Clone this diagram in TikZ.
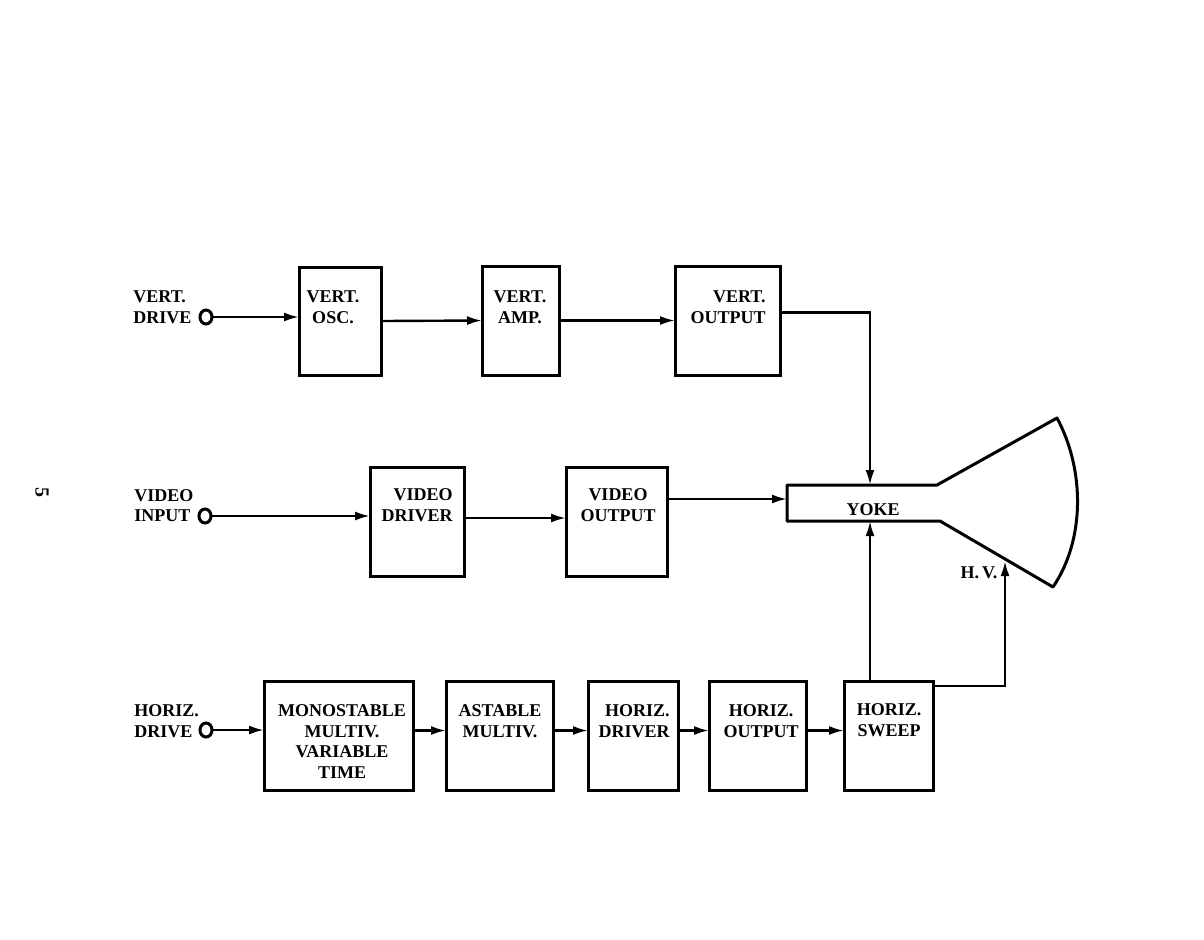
\documentclass[tikz,border=0pt]{standalone}
\usepackage{fontspec}
\setmainfont{Liberation Serif}
\usetikzlibrary{arrows.meta,shapes.geometric}
\begin{document}
\begin{tikzpicture}[x=0.5pt,y=-0.5pt,
  blk/.style={draw,line width=1.5pt,rectangle,inner sep=0pt,outer sep=0pt},
  lbl/.style={inner sep=0pt,font=\bfseries\fontsize{9}{10.3}\selectfont},
  term/.style={draw,ellipse,line width=1.5pt,minimum width=6pt,minimum height=7pt,inner sep=0pt,outer sep=0pt},
  conn/.style={line width=1.2pt},
  arr/.style={conn,-{Latex[length=7.5pt,width=4.5pt]}},
  tube/.style={line width=1.5pt,line join=round}]
\useasboundingbox[fill=white] (0,0) rectangle (1204,939);

% blocks
\node[blk,minimum width=41pt,minimum height=54pt] (vosc) at (340,321) {};
\node[blk,minimum width=38.5pt,minimum height=54.5pt] (vamp) at (520.5,320.5) {};
\node[blk,minimum width=52.5pt,minimum height=54.5pt] (vout) at (727.5,320.5) {};
\node[blk,minimum width=47pt,minimum height=54.5pt] (vdrv) at (417,521.5) {};
\node[blk,minimum width=50.5pt,minimum height=54.5pt] (vidout) at (616.5,521.5) {};
\node[blk,minimum width=74.5pt,minimum height=54.5pt] (mono) at (338.5,735.5) {};
\node[blk,minimum width=53.5pt,minimum height=54.5pt] (astab) at (499.5,735.5) {};
\node[blk,minimum width=45pt,minimum height=54.5pt] (hdrv) at (633,735.5) {};
\node[blk,minimum width=48.5pt,minimum height=54.5pt] (hout) at (757.5,735.5) {};
\node[blk,minimum width=44.5pt,minimum height=54.5pt] (hsweep) at (888.5,735.5) {};

% block texts
\node[lbl,align=center] (tvosc) at (333,307.5) {VERT.\\OSC.};
\node[lbl,align=center] (tvamp) at (520,307.5) {VERT.\\AMP.};
\node[lbl,align=right,anchor=east] (tvout) at (766,307) {VERT.\\OUTPUT};
\node[lbl,align=right,anchor=east] (tvdrv) at (453,505) {VIDEO\\DRIVER};
\node[lbl,align=center] (tvidout) at (618,505) {VIDEO\\OUTPUT};
\node[lbl,align=center] (tmono) at (342,741.5) {MONOSTABLE\\MULTIV.\\VARIABLE\\TIME};
\node[lbl,align=center] (tastab) at (500,721) {ASTABLE\\MULTIV.};
\node[lbl,align=right,anchor=east] (thdrv) at (670,721) {HORIZ.\\DRIVER};
\node[lbl,align=center] (thout) at (761,721) {HORIZ.\\OUTPUT};
\node[lbl,align=center] (thsweep) at (889,720) {HORIZ.\\SWEEP};

% input labels and terminals
\node[lbl,align=left,anchor=west] (lv) at (133,307.5) {VERT.\\DRIVE};
\node[lbl,align=left,anchor=west] (lvid) at (134,505.5) {VIDEO\\INPUT};
\node[lbl,align=left,anchor=west] (lh) at (134,721) {HORIZ.\\DRIVE};
\node[term] (cv) at (206,317) {};
\node[term] (cvid) at (205,516) {};
\node[term] (ch) at (206,730) {};

% picture tube
\coordinate (yTL) at (787,485);
\coordinate (yTR) at (937,485);
\coordinate (fT) at (1057,418);
\coordinate (fB) at (1053,587);
\coordinate (yBR) at (940,521);
\coordinate (yBL) at (787,521);
\draw[tube] (yTR) -- (yTL) -- (yBL) -- (yBR) -- (fB)
  .. controls (1085,540) and (1085,470) .. (fT) -- cycle;
\coordinate (yokeT) at (870,485);
\coordinate (yokeB) at (870,521);
\coordinate (yokeL) at (787,499);
\coordinate (hv) at (1005,561);
\node[lbl] (tyoke) at (873,510) {YOKE};
\node[lbl] (thv) at (979,573) {H.\,V.};

% page number
\node[inner sep=0pt,rotate=-90,font=\bfseries\fontsize{10}{11}\selectfont] (pg) at (42,492) {5};

% connectors
\draw[arr] (cv.east) -- (cv -| vosc.west);
\draw[arr] (vosc.east) -- (vamp.west);
\draw[arr] (vamp.east) -- (vout.west);
\draw[arr] ([yshift=4pt]vout.east) -| (yokeT);
\draw[arr] (cvid.east) -- (cvid -| vdrv.west);
\draw[arr] ([yshift=1.75pt]vdrv.east) -- ([yshift=1.75pt]vidout.west);
\draw[arr] (yokeL -| vidout.east) -- (yokeL);
\draw[arr] (ch.east) -- (ch -| mono.west);
\draw[arr] ([yshift=2.5pt]mono.east) -- ([yshift=2.5pt]astab.west);
\draw[arr] ([yshift=2.5pt]astab.east) -- ([yshift=2.5pt]hdrv.west);
\draw[arr] ([yshift=2.5pt]hdrv.east) -- ([yshift=2.5pt]hout.west);
\draw[arr] ([yshift=2.5pt]hout.east) -- ([yshift=2.5pt]hsweep.west);
\draw[arr] (yokeB |- hsweep.north) -- (yokeB);
\draw[arr] ([yshift=-2.5pt]hsweep.north east) -| (hv);
\end{tikzpicture}
\end{document}
